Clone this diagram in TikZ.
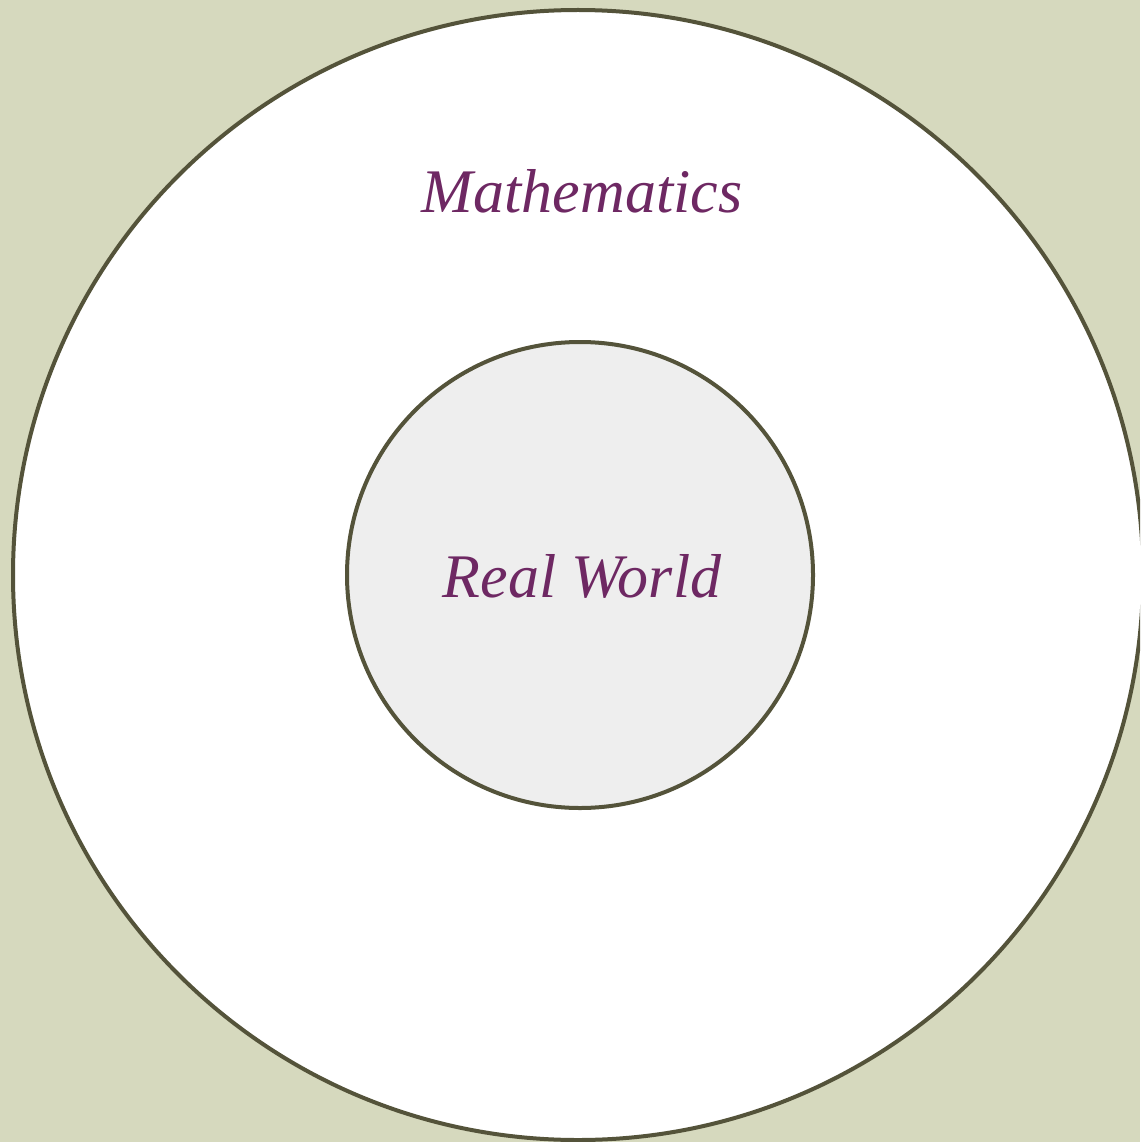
\documentclass[tikz,border=0pt]{standalone}
\usepackage{fontspec}
\setmainfont{Liberation Serif}
\definecolor{bgcol}{HTML}{D6D9BE}
\definecolor{ringcol}{HTML}{54533A}
\definecolor{innerfill}{HTML}{EEEEEE}
\definecolor{labelcol}{HTML}{6E2863}
\tikzset{
  ring/.style={circle, draw=ringcol, line width=4pt, inner sep=0pt},
  lbl/.style={text=labelcol, font=\fontsize{62}{70}\selectfont\itshape, inner sep=0pt, anchor=base}
}
\begin{document}
\begin{tikzpicture}[x=1pt,y=-1pt]
\useasboundingbox (0,0) rectangle (1140,1142);
\fill[bgcol] (0,0) rectangle (1140,1142);
\begin{scope}
\clip (0,0) rectangle (1140,1142);
\node[ring, fill=white, minimum size=1130pt] (math) at (578,575) {};
\end{scope}
\node[ring, fill=innerfill, minimum size=466pt] (real) at (580,575) {};
\node[lbl] (mathlbl) at (582,212) {Mathematics};
\node[lbl] (reallbl) at (582,597) {Real World};
\end{tikzpicture}
\end{document}
